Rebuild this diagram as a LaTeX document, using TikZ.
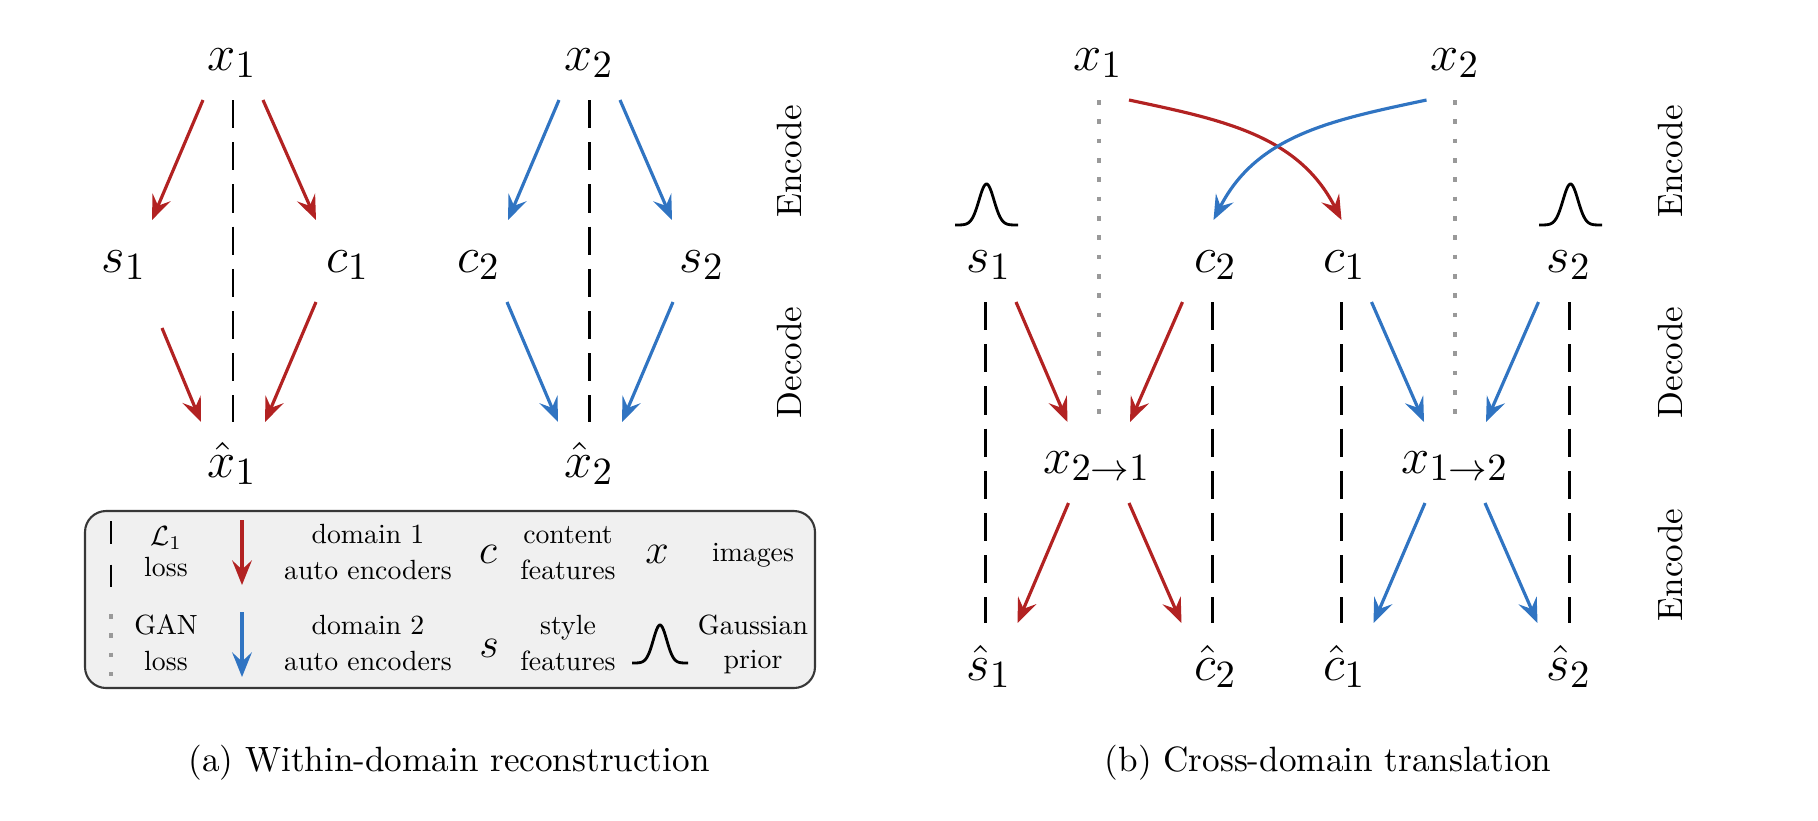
\documentclass[tikz,border=0pt]{standalone}
\usetikzlibrary{arrows.meta,calc}
\definecolor{redA}{RGB}{178,34,34}
\definecolor{blueA}{RGB}{48,116,194}
\definecolor{legfill}{RGB}{240,240,240}
\definecolor{legdraw}{RGB}{55,55,55}
\begin{document}
\begin{tikzpicture}[x=0.01cm,y=-0.01cm,
  lbl/.style={anchor=base,font=\fontsize{15.2}{18}\selectfont,inner sep=0pt},
  arrtip/.style={-{Stealth[length=7pt,width=5.6pt,inset=2.6pt]}},
  redarr/.style={arrtip,redA,line width=0.9pt},
  bluearr/.style={arrtip,blueA,line width=0.9pt},
  lonedash/.style={line width=0.85pt,dash pattern=on 8pt off 4pt},
  gandot/.style={draw=gray!80,line width=1.3pt,dash pattern=on 1.3pt off 4.2pt},
  phase/.style={rotate=90,font=\normalsize,anchor=center},
  gauss/.style={line width=0.8pt},
  legtxt/.style={font=\normalsize,scale=0.79,transform shape,anchor=base,inner sep=0pt},
  legsym/.style={font=\fontsize{13}{15}\selectfont,anchor=base,inner sep=0pt},
  captxt/.style={font=\normalsize,anchor=base}
]
\useasboundingbox (0,0) rectangle (1818,820);

% ---------------- Panel (a) ----------------
\node[lbl] (x1a) at (232,70) {$x_1$};
\node[lbl] (s1a) at (124,272) {$s_1$};
\node[lbl] (c1a) at (348,272) {$c_1$};
\node[lbl] (xh1) at (232,477) {$\hat{x}_1$};
\node[lbl] (x2a) at (589,70) {$x_2$};
\node[lbl] (c2a) at (479,272) {$c_2$};
\node[lbl] (s2a) at (702,272) {$s_2$};
\node[lbl] (xh2) at (589,477) {$\hat{x}_2$};

\draw[lonedash] ($(x1a.base)+(1,30)$) -- ($(xh1.base)+(1,-55)$);
\draw[lonedash] ($(x2a.base)+(0,30)$) -- ($(xh2.base)+(0,-55)$);

\draw[redarr] ($(x1a.base)+(-29,30)$) -- ($(s1a.base)+(28,-52)$);
\draw[redarr] ($(x1a.base)+(31,30)$) -- ($(c1a.base)+(-32,-52)$);
\draw[redarr] ($(s1a.base)+(38,56)$) -- ($(xh1.base)+(-31,-55)$);
\draw[redarr] ($(c1a.base)+(-32,30)$) -- ($(xh1.base)+(33,-55)$);

\draw[bluearr] ($(x2a.base)+(-30,30)$) -- ($(c2a.base)+(29,-52)$);
\draw[bluearr] ($(x2a.base)+(31,30)$) -- ($(s2a.base)+(-30,-52)$);
\draw[bluearr] ($(c2a.base)+(28,30)$) -- ($(xh2.base)+(-31,-55)$);
\draw[bluearr] ($(s2a.base)+(-29,30)$) -- ($(xh2.base)+(33,-55)$);

\node[phase] (encA) at (789,161.5) {Encode};
\node[phase] (decA) at (789,362.5) {Decode};

% legend
\draw[draw=legdraw, fill=legfill, rounded corners=6pt, line width=0.6pt] (85,511) rectangle (815,688);
\coordinate (ldA) at (111,521);
\coordinate (ldB) at (111,587);
\draw[line width=0.85pt,dash pattern=on 6.4pt off 6pt] (ldA) -- (ldB);
\coordinate (lgA) at (111,614);
\coordinate (lgB) at (111,676);
\draw[gandot] (lgA) -- (lgB);
\coordinate (lrA) at (242,520);
\coordinate (lrB) at (242,585);
\draw[redarr] (lrA) -- (lrB);
\coordinate (lbA) at (242,612);
\coordinate (lbB) at (242,677);
\draw[bluearr] (lbA) -- (lbB);

\node[legtxt] (tL) at (166,545) {$\mathcal{L}_1$};
\node[legtxt] (tloss1) at (166,576) {loss};
\node[legtxt] (tGAN) at (166,634) {GAN};
\node[legtxt] (tloss2) at (166,670) {loss};
\node[legtxt] (td1) at (368,543) {domain 1};
\node[legtxt] (tae1) at (368,579) {auto encoders};
\node[legtxt] (td2) at (368,634) {domain 2};
\node[legtxt] (tae2) at (368,670) {auto encoders};
\node[legsym] (tc) at (488,563) {$c$};
\node[legsym] (ts) at (489,657) {$s$};
\node[legtxt] (tcont) at (568,543) {content};
\node[legtxt] (tfeat1) at (568,579) {features};
\node[legtxt] (tsty) at (568,634) {style};
\node[legtxt] (tfeat2) at (568,670) {features};
\node[legsym] (tx) at (657,563) {$x$};
\node[legtxt] (timg) at (753,561) {images};
\node[legtxt] (tgau) at (753,634) {Gaussian};
\node[legtxt] (tpri) at (753,668) {prior};
\draw[gauss] plot[domain=-28:28,samples=60,smooth] ({660+\x},{663-38*exp(-(\x*\x)/90)});

\node[captxt] (capA) at (449,771) {(a) Within-domain reconstruction};

% ---------------- Panel (b) ----------------
\node[lbl] (x1b) at (1098,70) {$x_1$};
\node[lbl] (x2b) at (1455,70) {$x_2$};
\node[lbl] (s1b) at (989,272) {$s_1$};
\node[lbl] (c2b) at (1215.5,272) {$c_2$};
\node[lbl] (c1b) at (1344.5,272) {$c_1$};
\node[lbl] (s2b) at (1569,272) {$s_2$};
\node[lbl] (x21) at (1097,473) {$x_{2\rightarrow1}$};
\node[lbl] (x12) at (1455,473) {$x_{1\rightarrow2}$};
\node[lbl] (sh1) at (989,680) {$\hat{s}_1$};
\node[lbl] (ch2) at (1215.5,680) {$\hat{c}_2$};
\node[lbl] (ch1) at (1344.5,680) {$\hat{c}_1$};
\node[lbl] (sh2) at (1569,680) {$\hat{s}_2$};

% gaussian priors
\draw[gauss] plot[domain=-31.5:31.5,samples=70,smooth] ({986.5+\x},{225-41*exp(-(\x*\x)/112)});
\draw[gauss] plot[domain=-31.5:31.5,samples=70,smooth] ({1570.5+\x},{225-41*exp(-(\x*\x)/112)});

% GAN dotted lines
\draw[gandot] ($(x1b.base)+(1,30)$) -- ($(x21.base)+(2,-54)$);
\draw[gandot] ($(x2b.base)+(0,30)$) -- ($(x12.base)+(0,-54)$);

% L1 dashed lines
\draw[lonedash] ($(s1b.base)+(-4,30)$) -- ($(sh1.base)+(-4,-57)$);
\draw[lonedash] ($(c2b.base)+(-3,30)$) -- ($(ch2.base)+(-3,-57)$);
\draw[lonedash] ($(c1b.base)+(-3,30)$) -- ($(ch1.base)+(-3,-57)$);
\draw[lonedash] ($(s2b.base)+(0,30)$) -- ($(sh2.base)+(0,-57)$);

% crossing encoders
\draw[redarr] ($(x1b.base)+(31,30)$) to[out=-12,in=117] ($(c1b.base)+(-3,-52)$);
\draw[bluearr] ($(x2b.base)+(-28.5,30)$) to[out=192,in=63] ($(c2b.base)+(-2,-52)$);

% decoders
\draw[redarr] ($(s1b.base)+(27,30)$) -- ($(x21.base)+(-29.5,-51)$);
\draw[redarr] ($(c2b.base)+(-33,30)$) -- ($(x21.base)+(33,-51)$);
\draw[bluearr] ($(c1b.base)+(27,30)$) -- ($(x12.base)+(-31,-51)$);
\draw[bluearr] ($(s2b.base)+(-30.5,30)$) -- ($(x12.base)+(31,-51)$);

% re-encoders
\draw[redarr] ($(x21.base)+(-28.5,30)$) -- ($(sh1.base)+(28.5,-57)$);
\draw[redarr] ($(x21.base)+(32,30)$) -- ($(ch2.base)+(-34,-57)$);
\draw[bluearr] ($(x12.base)+(-30,30)$) -- ($(ch1.base)+(29,-57)$);
\draw[bluearr] ($(x12.base)+(30,30)$) -- ($(sh2.base)+(-31.5,-57)$);

\node[phase] (encB) at (1670,161.5) {Encode};
\node[phase] (decB) at (1670,362.5) {Decode};
\node[phase] (encC) at (1670,565) {Encode};

\node[captxt] (capB) at (1328,771) {(b) Cross-domain translation};
\end{tikzpicture}
\end{document}
